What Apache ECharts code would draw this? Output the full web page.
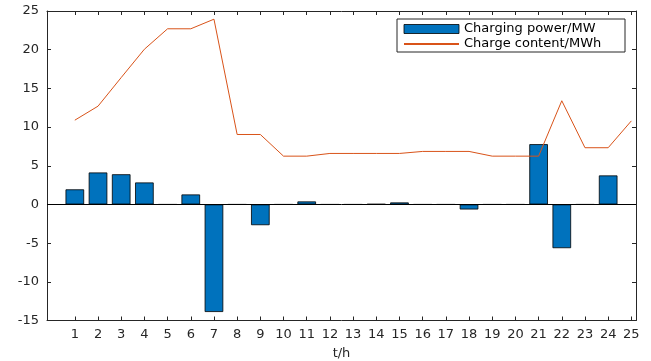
<!DOCTYPE html>
<html>
<head>
<meta charset="utf-8">
<script src="https://cdn.jsdelivr.net/npm/echarts@6/dist/echarts.min.js"></script>
<style>
  html, body { margin: 0; padding: 0; background: #fff; }
  #chart { width: 651px; height: 361px; }
</style>
</head>
<body>
<div id="chart"></div>
<script>
// Hourly storage schedule: charging power (bars) and stored energy (line)
const hours = [1, 2, 3, 4, 5, 6, 7, 8, 9, 10, 11, 12, 13, 14, 15, 16, 17, 18, 19, 20, 21, 22, 23, 24, 25];
const powerHours = [1, 2, 3, 4, 5, 6, 7, 8, 9, 10, 11, 12, 13, 14, 15, 16, 17, 18, 19, 20, 21, 22, 23, 24];
const chargingPower = [1.95, 4.13, 3.9, 2.84, 0, 1.29, -13.9, 0, -2.68, 0, 0.39, 0, 0, 0.05, 0.26, 0, 0, -0.65, 0, 0, 7.79, -5.65, 0, 3.75];
const chargeContent = [10.89, 12.7, 16.4, 20.06, 22.7, 22.7, 23.94, 9.04, 9.04, 6.24, 6.24, 6.59, 6.59, 6.59, 6.59, 6.85, 6.85, 6.85, 6.24, 6.24, 6.24, 13.4, 7.33, 7.33, 10.8];
const xTickValues = hours;
const yRange = [-15, 25];
const yStep = 5;

const AXIS = '#262626';
const FONT = 'DejaVu Sans';

const chart = echarts.init(document.getElementById('chart'), null, { renderer: 'canvas' });

const xBase = {
  type: 'value',
  min: -0.2,
  max: 25.2,
  splitLine: { show: false },
  axisLine: { show: true, onZero: false, lineStyle: { color: AXIS, width: 1 } },
  axisTick: { show: true, inside: true, length: 4, customValues: xTickValues, lineStyle: { color: AXIS } }
};
const yBase = {
  type: 'value',
  min: yRange[0],
  max: yRange[1],
  interval: yStep,
  splitLine: { show: false },
  axisLine: { show: true, onZero: false, lineStyle: { color: AXIS, width: 1 } },
  axisTick: { show: true, inside: true, length: 4, lineStyle: { color: AXIS } }
};

chart.setOption({
  animation: false,
  backgroundColor: '#fff',
  textStyle: { fontFamily: FONT },
  grid: { left: 47, right: 15, top: 11, bottom: 40.5, containLabel: false, outerBoundsMode: 'none' },
  legend: {
    orient: 'vertical',
    left: 397,
    top: 19,
    padding: [3, 8, 1, 6],
    itemGap: 1,
    itemWidth: 55,
    itemHeight: 9,
    itemTextGap: 6,
    borderColor: AXIS,
    borderWidth: 1,
    backgroundColor: '#fff',
    textStyle: { fontFamily: FONT, fontSize: 13, color: '#000', lineHeight: 14, width: 153 },
    data: [
      { name: 'Charging power/MW', icon: 'rect', itemStyle: { borderColor: '#000', borderWidth: 0.8 } },
      { name: 'Charge content/MWh', itemStyle: { opacity: 0 } }
    ]
  },
  xAxis: [
    Object.assign({}, xBase, {
      position: 'bottom',
      name: 't/h',
      nameLocation: 'middle',
      nameGap: 27,
      nameTextStyle: { fontFamily: FONT, fontSize: 13, color: AXIS },
      axisLabel: { show: true, customValues: xTickValues, margin: 8, fontSize: 13, color: AXIS, fontFamily: FONT }
    }),
    Object.assign({}, xBase, {
      position: 'top',
      axisLabel: { show: false }
    })
  ],
  yAxis: [
    Object.assign({}, yBase, {
      position: 'left',
      axisLabel: { show: true, margin: 8, fontSize: 13, color: AXIS, fontFamily: FONT }
    }),
    Object.assign({}, yBase, {
      position: 'right',
      axisLabel: { show: false }
    })
  ],
  series: [
    {
      name: 'Charging power/MW',
      type: 'bar',
      xAxisIndex: 0,
      yAxisIndex: 0,
      barWidth: 18.6,
      itemStyle: { color: '#0072BD', borderColor: '#000', borderWidth: 0.8 },
      data: powerHours.map((h, i) => [h, chargingPower[i]]),
      markLine: {
        silent: true,
        symbol: 'none',
        label: { show: false },
        lineStyle: { color: '#000', width: 1, type: 'solid' },
        data: [{ yAxis: 0 }]
      },
      z: 2
    },
    {
      name: 'Charge content/MWh',
      type: 'line',
      xAxisIndex: 0,
      yAxisIndex: 0,
      symbol: 'none',
      lineStyle: { color: '#D95319', width: 1 },
      itemStyle: { color: '#D95319' },
      data: hours.map((h, i) => [h, chargeContent[i]]),
      z: 3
    }
  ]
});
</script>
</body>
</html>
